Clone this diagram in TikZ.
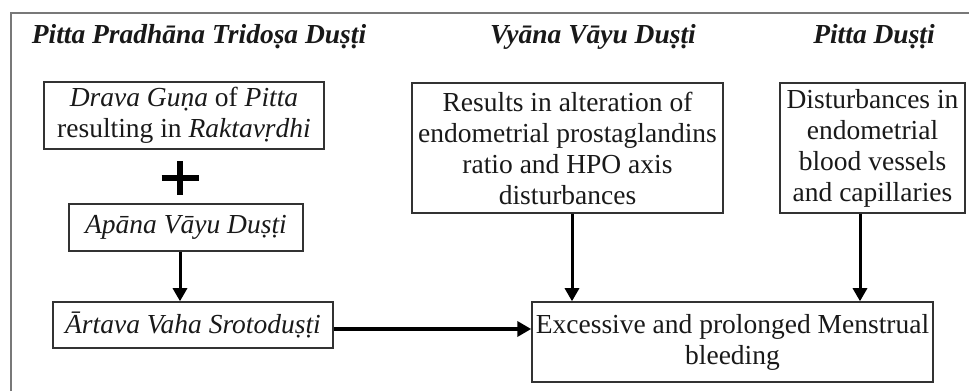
\documentclass[tikz,border=0pt]{standalone}
\usepackage{fontspec}
\setmainfont{Liberation Serif}
\usetikzlibrary{arrows.meta}
\definecolor{framegray}{RGB}{120,120,120}
\definecolor{boxline}{RGB}{50,50,50}
\definecolor{inkcol}{RGB}{25,25,25}
\tikzset{
  head/.style={font=\fontsize{27.5}{31}\selectfont\bfseries\itshape, text=inkcol, inner sep=0pt, anchor=base},
  box/.style={draw=boxline, line width=1.5pt, align=center, inner sep=0pt,
              font=\fontsize{27.5}{31}\selectfont, text=inkcol},
  arr/.style={draw=black, line width=3pt, -{Triangle[length=13pt,width=14pt]}},
  arrthick/.style={draw=black, line width=4.5pt, -{Triangle[length=14pt,width=15pt]}}
}
\begin{document}
\begin{tikzpicture}[x=1pt,y=1pt]
\useasboundingbox (0,0) rectangle (969,391);
% frame
\draw[framegray, line width=2pt] (11,0) -- (11,378) -- (969,378);
% headings
\node[head] (h1) at (199,347.5) {Pitta Pradhāna Tridoṣa Duṣṭi};
\node[head] (h2) at (593,347.5) {Vyāna Vāyu Duṣṭi};
\node[head] (h3) at (874,347.5) {Pitta Duṣṭi};
% boxes
\node[box, minimum width=280pt, minimum height=67pt] (b1) at (184,275.5)
  {\textit{Drava Guṇa} of \textit{Pitta}\\resulting in \textit{Raktavṛdhi}};
\node[box, minimum width=234pt, minimum height=47pt] (b2) at (186,163.5)
  {\textit{Apāna Vāyu Duṣṭi}};
\node[box, minimum width=280pt, minimum height=46pt] (b3) at (193,66)
  {\textit{Ārtava Vaha Srotoduṣṭi}};
\node[box, minimum width=401pt, minimum height=80pt] (b4) at (732.5,49)
  {Excessive and prolonged Menstrual\\bleeding};
\node[box, minimum width=311pt, minimum height=130pt] (b5) at (567.5,243)
  {Results in alteration of\\endometrial prostaglandins\\ratio and HPO axis\\disturbances};
\node[box, minimum width=185pt, minimum height=130pt] (b6) at (872.5,243)
  {Disturbances in\\endometrial\\blood vessels\\and capillaries};
% plus sign
\coordinate (plus) at (180,213);
\draw[black, line width=6pt] ([xshift=-18.5pt]plus) -- ([xshift=18.5pt]plus);
\draw[black, line width=6pt] ([yshift=-17pt]plus) -- ([yshift=17pt]plus);
% connectors
\coordinate (ax1) at (180,0);
\coordinate (ax2) at (572,0);
\coordinate (ax3) at (860,0);
\draw[arr] (b2.south -| ax1) -- (b3.north -| ax1);
\draw[arr] (b5.south -| ax2) -- (b4.north -| ax2);
\draw[arr] (b6.south -| ax3) -- (b4.north -| ax3);
\draw[arrthick] ([yshift=-4pt]b3.east) -- ([yshift=-4pt]b3.east -| b4.west);
\end{tikzpicture}
\end{document}
